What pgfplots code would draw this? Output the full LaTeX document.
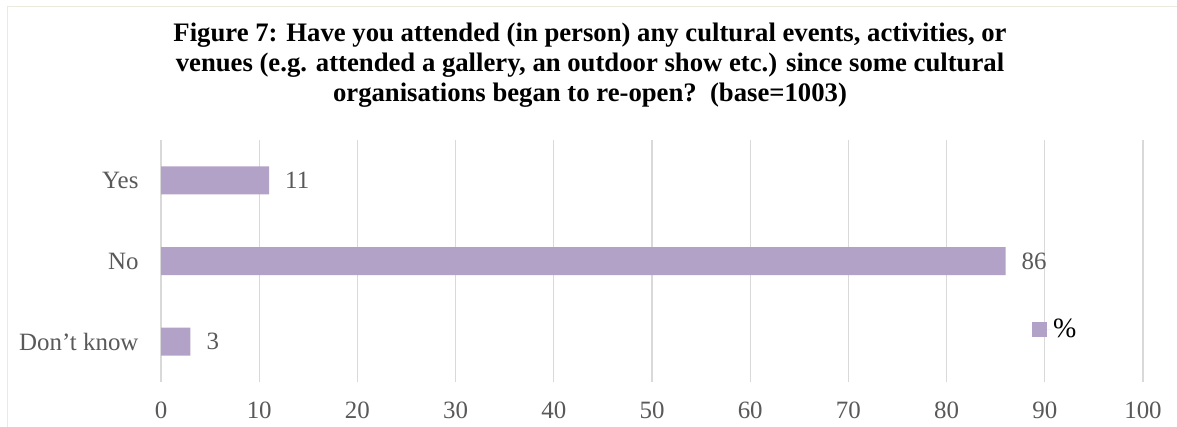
\documentclass[border=0pt]{standalone}
\usepackage{fontspec}
\setmainfont{Liberation Serif}
\usepackage{pgfplots}
\pgfplotsset{compat=1.18}
\definecolor{barc}{RGB}{179,162,199}
\definecolor{gridc}{RGB}{217,217,217}
\definecolor{txt}{RGB}{89,89,89}
\definecolor{framec}{RGB}{236,233,222}
\pgfplotstableread{
y val
0 3
1 86
2 11
}\datatable
\begin{document}
\begin{tikzpicture}[x=1bp,y=1bp]
\path[use as bounding box] (0,0) rectangle (1177,426);
\fill[white] (0,0) rectangle (1177,426);
\draw[framec, line width=1.5bp] (7.5,-5) -- (7.5,419.5) -- (1185,419.5);
\node[font=\fontsize{26.8}{30}\selectfont\bfseries, align=center, inner sep=0pt] at (590,361)
 {Figure 7: Have you attended (in person) any cultural events, activities, or\\
 venues (e.g. attended a gallery, an outdoor show etc.) since some cultural\\
 organisations began to re-open?\ \ (base=1003)};
\begin{axis}[
  at={(161bp,44bp)}, anchor=south west,
  scale only axis, width=982bp, height=242bp,
  xbar, bar width=28bp,
  xmin=0, xmax=100, ymin=-0.5, ymax=2.5,
  xtick={0,10,...,100},
  ytick={0,1,2},
  yticklabels={Don’t know, No, Yes},
  xmajorgrids, grid style={gridc, line width=1.3bp},
  axis line style={draw=none},
  major tick length=0pt,
  tick label style={font=\fontsize{25}{28}\selectfont, text=txt},
  xticklabel style={yshift=-16bp},
  yticklabel style={xshift=-19bp},
  /pgf/number format/assume math mode=true,
  nodes near coords,
  every node near coord/.append style={font=\fontsize{25}{28}\selectfont, text=txt, anchor=west, inner sep=0pt, xshift=16bp},
  legend style={at={(0.887,0.219)}, anchor=west, draw=none, fill=none, inner sep=0pt,
    font=\fontsize{28}{30}\selectfont},
  legend image code/.code={\fill[barc] (0bp,-7.5bp) rectangle (15bp,7.5bp); \path (0bp,0bp) -- (19bp,0bp);},
]
\addplot[fill=barc, draw=none] table[x=val, y=y] {\datatable};
\addlegendentry{\%}
\end{axis}
\end{tikzpicture}
\end{document}
